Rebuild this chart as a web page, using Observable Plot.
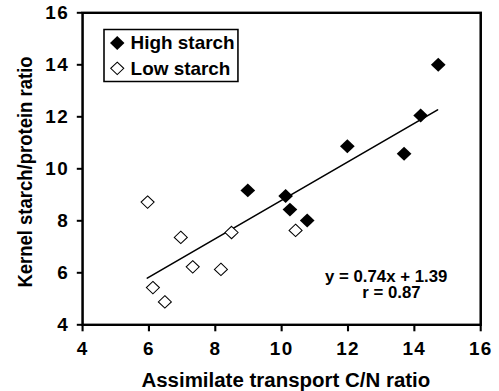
<!DOCTYPE html>
<html>
<head>
<meta charset="utf-8">
<script src="https://cdn.jsdelivr.net/npm/d3@7"></script>
<script src="https://cdn.jsdelivr.net/npm/@observablehq/plot@0.6"></script>
<style>
  html, body { margin: 0; padding: 0; background: #fff; }
  #chart { width: 499px; height: 391px; }
</style>
</head>
<body>
<div id="chart"></div>
<script>
// ---- data ----
const highX = [14.72, 14.19, 11.98, 13.69, 8.98, 10.12, 10.25, 10.77];
const highY = [14.00, 12.05, 10.87, 10.58, 9.17, 8.95, 8.43, 8.01];
const lowX  = [5.96, 6.96, 8.49, 7.32, 8.17, 6.12, 6.48, 10.42];
const lowY  = [8.72, 7.36, 7.55, 6.23, 6.13, 5.43, 4.88, 7.63];
const seriesNames = ["High starch", "Low starch"];
const fitSlope = 0.74, fitIntercept = 1.39, fitR = 0.87;
const fitXRange = [5.95, 14.7];
const xTicks = [4, 6, 8, 10, 12, 14, 16];
const yTicks = [4, 6, 8, 10, 12, 14, 16];
const xTitle = "Assimilate transport C/N ratio";
const yTitle = "Kernel starch/protein ratio";

const high = highX.map((x, i) => ({x, y: highY[i]}));
const low = lowX.map((x, i) => ({x, y: lowY[i]}));
const fitLine = fitXRange.map(x => ({x, y: fitSlope * x + fitIntercept}));

const FONT = "'Liberation Sans', Arial, Helvetica, sans-serif";
const W = 475, H = 391; // drawn width, then stretched horizontally to 499

const plot = Plot.plot({
  width: W, height: H,
  marginLeft: 78.1, marginRight: 17.9, marginTop: 12.3, marginBottom: 66.7,
  style: {fontFamily: FONT, fontWeight: "bold", color: "#000", background: "#fff"},
  x: {domain: [4, 16]},
  y: {domain: [4, 16]},
  marks: [
    Plot.axisX({ticks: xTicks, tickSize: 7, tickPadding: 10.5, fontSize: 18, fontWeight: "bold", strokeWidth: 2, label: null, tickFormat: d => String(d), ariaLabel: "x-axis"}),
    Plot.axisY({ticks: yTicks, tickSize: 5, tickPadding: 8, fontSize: 18, fontWeight: "bold", strokeWidth: 2, label: null, tickFormat: d => String(d), ariaLabel: "y-axis"}),
    Plot.frame({stroke: "#000", strokeWidth: 2.4}),
    Plot.line(fitLine, {x: "x", y: "y", stroke: "#000", strokeWidth: 1.5}),
    Plot.dot(low, {x: "x", y: "y", symbol: "diamond2", r: 5.6, stroke: "#000", strokeWidth: 1, fill: "#fff"}),
    Plot.dot(high, {x: "x", y: "y", symbol: "diamond2", r: 6.3, fill: "#000", stroke: "none"}),
    // legend
    Plot.dot([0], {x: null, y: null, frameAnchor: "top-left", dx: 33, dy: 30.2, symbol: "diamond2", r: 6.2, fill: "#000", stroke: "none"}),
    Plot.dot([0], {x: null, y: null, frameAnchor: "top-left", dx: 33, dy: 55.5, symbol: "diamond2", r: 5.6, fill: "#fff", stroke: "#000", strokeWidth: 1}),
    Plot.text([seriesNames[0]], {text: d => d, frameAnchor: "top-left", dx: 45.7, dy: 36, textAnchor: "start", lineAnchor: "bottom", fontSize: 18, fontWeight: "bold", fill: "#000"}),
    Plot.text([seriesNames[1]], {text: d => d, frameAnchor: "top-left", dx: 45.7, dy: 62, textAnchor: "start", lineAnchor: "bottom", fontSize: 18, fontWeight: "bold", fill: "#000"}),
    // equation
    Plot.text([`y = ${fitSlope}x + ${fitIntercept}`], {text: d => d, frameAnchor: "bottom-right", dx: -90, dy: -42.5, textAnchor: "middle", lineAnchor: "bottom", fontSize: 16, fontWeight: "bold", fill: "#000"}),
    Plot.text([`r = ${fitR}`], {text: d => d, frameAnchor: "bottom-right", dx: -85, dy: -26.5, textAnchor: "middle", lineAnchor: "bottom", fontSize: 16, fontWeight: "bold", fill: "#000"}),
    // axis titles
    Plot.text([xTitle], {text: d => d, frameAnchor: "bottom", dx: 4, dy: 62, textAnchor: "middle", lineAnchor: "bottom", fontSize: 19.5, fontWeight: "bold", fill: "#000"}),
    Plot.text([yTitle], {text: d => d, frameAnchor: "left", rotate: -90, dx: -47.9, dy: 3.2, textAnchor: "middle", lineAnchor: "bottom", fontSize: 18.5, fontWeight: "bold", fill: "#000"})
  ]
});

// slightly wider digits for the tick labels, like the reference
d3.select(plot).selectAll("g[aria-label='x-axis tick label'] text, g[aria-label='y-axis tick label'] text")
  .style("letter-spacing", "1.2px");

// legend box
d3.select(plot).append("rect")
  .attr("x", 99).attr("y", 29.5).attr("width", 127.5).attr("height", 52)
  .attr("fill", "none").attr("stroke", "#000").attr("stroke-width", 1.5);

// stretch horizontally like the reference
plot.setAttribute("width", 499);
plot.setAttribute("height", 391);
plot.setAttribute("preserveAspectRatio", "none");
plot.style.width = "499px";
plot.style.height = "391px";
plot.style.maxWidth = "none";
document.getElementById("chart").appendChild(plot);
</script>
</body>
</html>
